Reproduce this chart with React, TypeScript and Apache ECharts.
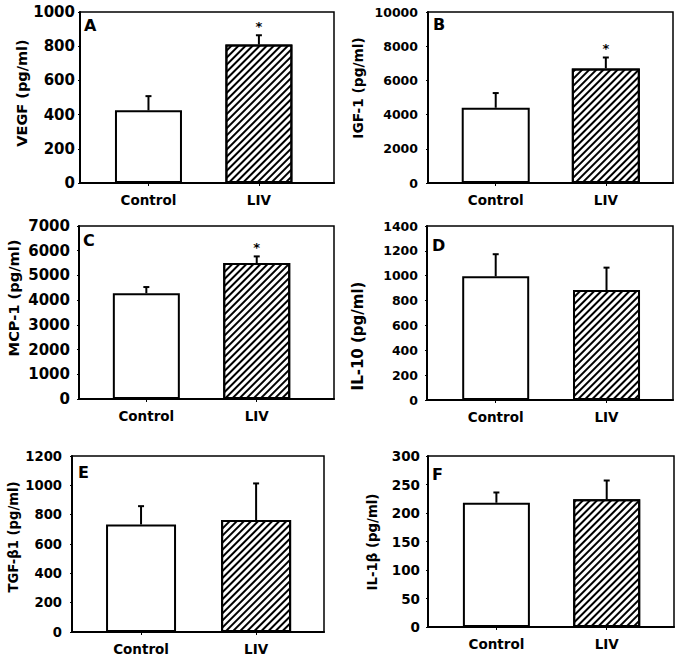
import React, { useEffect, useRef } from 'react';
import * as echarts from 'echarts';

const categories = ['Control', 'LIV'];
const panelLetters = ['A', 'B', 'C', 'D', 'E', 'F'];
const yAxisNames = ['VEGF (pg/ml)', 'IGF-1 (pg/ml)', 'MCP-1 (pg/ml)', 'IL-10 (pg/ml)', 'TGF-β1 (pg/ml)', 'IL-1β (pg/ml)'];
const yMax = [1000, 10000, 7000, 1400, 1200, 300];
const yStep = [200, 2000, 1000, 200, 200, 50];
const controlMean = [425, 4400, 4280, 995, 733, 218];
const controlErr = [83, 860, 250, 178, 125, 18];
const livMean = [810, 6700, 5500, 885, 763, 224];
const livErr = [54, 640, 270, 180, 250, 33];
const livSignificant = [1, 1, 1, 0, 0, 0];

const FONT = 'DejaVu Sans';

const layout = [
  { left: 80, top: 12, width: 254, height: 171, xMin: -0.62, xMax: 1.68, barW: 67, tickFont: 15, tickMargin: 5, nameX: 22, nameY: 93, nameFont: 14.5, letterX: 84, letterY: 20 },
  { left: 428, top: 12, width: 245, height: 171, xMin: -0.615, xMax: 1.61, barW: 68, tickFont: 12.5, tickMargin: 10, nameX: 358, nameY: 88, nameFont: 13.7, letterX: 433, letterY: 19 },
  { left: 79, top: 226, width: 255, height: 173, xMin: -0.61, xMax: 1.7, barW: 67, tickFont: 15, tickMargin: 9, nameX: 13, nameY: 298, nameFont: 14.6, letterX: 83, letterY: 235 },
  { left: 427, top: 226, width: 246, height: 174, xMin: -0.62, xMax: 1.6, barW: 67, tickFont: 12.5, tickMargin: 9, nameX: 358, nameY: 336, nameFont: 15, letterX: 432, letterY: 240 },
  { left: 72, top: 456, width: 252, height: 176, xMin: -0.6, xMax: 1.59, barW: 70, tickFont: 13.2, tickMargin: 10, nameX: 13, nameY: 537, nameFont: 13.2, letterX: 78, letterY: 467 },
  { left: 428, top: 456, width: 246, height: 171, xMin: -0.62, xMax: 1.61, barW: 67, tickFont: 13.5, tickMargin: 8, nameX: 372, nameY: 542, nameFont: 13.3, letterX: 432, letterY: 469 },
];

const hatch = {
  symbol: 'rect',
  symbolSize: 1,
  symbolKeepAspect: false,
  color: '#000',
  dashArrayX: [1, 0],
  dashArrayY: [1.8, 2.8],
  rotation: -Math.PI / 4,
};

export default function App() {
  const ref = useRef<HTMLDivElement>(null);
  useEffect(() => {
    if (!ref.current) return;
    const chart = echarts.init(ref.current, null, { renderer: 'svg' });
    const grid: any[] = [];
    const xAxis: any[] = [];
    const yAxis: any[] = [];
    const series: any[] = [];
    const graphic: any[] = [];
    layout.forEach((L, i) => {
      grid.push({ left: L.left, top: L.top, width: L.width, height: L.height, show: true, borderColor: '#000', borderWidth: 1.5, backgroundColor: 'transparent' });
      xAxis.push({
        type: 'value', gridIndex: i, min: L.xMin, max: L.xMax,
        axisLine: { show: true, onZero: false, lineStyle: { color: '#000', width: 2 } },
        axisTick: { show: true, customValues: [0, 1], length: 3, lineStyle: { color: '#000', width: 1 } },
        axisLabel: {
          customValues: [0, 1], formatter: (v: number) => categories[Math.round(v)] ?? '',
          fontFamily: FONT, fontWeight: 'bold', fontSize: 13.5, color: '#000', margin: 10,
        },
        splitLine: { show: false },
      });
      yAxis.push({
        type: 'value', gridIndex: i, min: 0, max: yMax[i], interval: yStep[i],
        axisLine: { show: true, onZero: false, lineStyle: { color: '#000', width: 2 } },
        axisTick: { show: true, length: 2, lineStyle: { color: '#000', width: 1 } },
        axisLabel: { formatter: (v: number) => String(v), fontFamily: FONT, fontWeight: 'bold', fontSize: L.tickFont, color: '#000', margin: L.tickMargin },
        splitLine: { show: false },
      });
      series.push({
        type: 'bar', xAxisIndex: i, yAxisIndex: i, barWidth: L.barW,
        itemStyle: { borderColor: '#000', borderWidth: 2, color: '#fff' },
        data: [
          { value: [0, controlMean[i]], itemStyle: { color: '#fff' } },
          { value: [1, livMean[i]], itemStyle: { color: '#fff', decal: hatch } },
        ],
        z: 2,
      });
      series.push({
        type: 'custom', xAxisIndex: i, yAxisIndex: i, z: 3,
        encode: { x: 0, y: [1, 2] },
        data: [
          [0, controlMean[i], controlMean[i] + controlErr[i], 0],
          [1, livMean[i], livMean[i] + livErr[i], livSignificant[i]],
        ],
        renderItem: (params: any, api: any) => {
          const x = api.value(0);
          const p0 = api.coord([x, api.value(1)]);
          const p1 = api.coord([x, api.value(2)]);
          const children: any[] = [
            { type: 'line', shape: { x1: p0[0], y1: p0[1], x2: p1[0], y2: p1[1] }, style: { stroke: '#000', lineWidth: 2 } },
            { type: 'line', shape: { x1: p1[0] - 3, y1: p1[1], x2: p1[0] + 3, y2: p1[1] }, style: { stroke: '#000', lineWidth: 2 } },
          ];
          if (api.value(3)) {
            children.push({
              type: 'text', x: p1[0], y: p1[1] - 2,
              style: { text: '*', fill: '#000', fontSize: 13, fontWeight: 'bold', fontFamily: FONT, align: 'center', verticalAlign: 'bottom' },
            });
          }
          return { type: 'group', children };
        },
      });
      graphic.push({
        type: 'text', x: L.nameX, y: L.nameY, rotation: Math.PI / 2,
        style: { text: yAxisNames[i], fill: '#000', fontSize: L.nameFont, fontWeight: 'bold', fontFamily: FONT, align: 'center', verticalAlign: 'middle' },
      });
      graphic.push({
        type: 'text', x: L.letterX, y: L.letterY - 3,
        style: { text: panelLetters[i], fill: '#000', fontSize: 16, fontWeight: 'bold', fontFamily: FONT, align: 'left', verticalAlign: 'top' },
      });
    });
    chart.setOption({ animation: false, backgroundColor: '#fff', grid, xAxis, yAxis, series, graphic });
    return () => chart.dispose();
  }, []);
  return <div ref={ref} style={{ position: 'absolute', left: 0, top: 0, width: 681, height: 663 }} />;
}
